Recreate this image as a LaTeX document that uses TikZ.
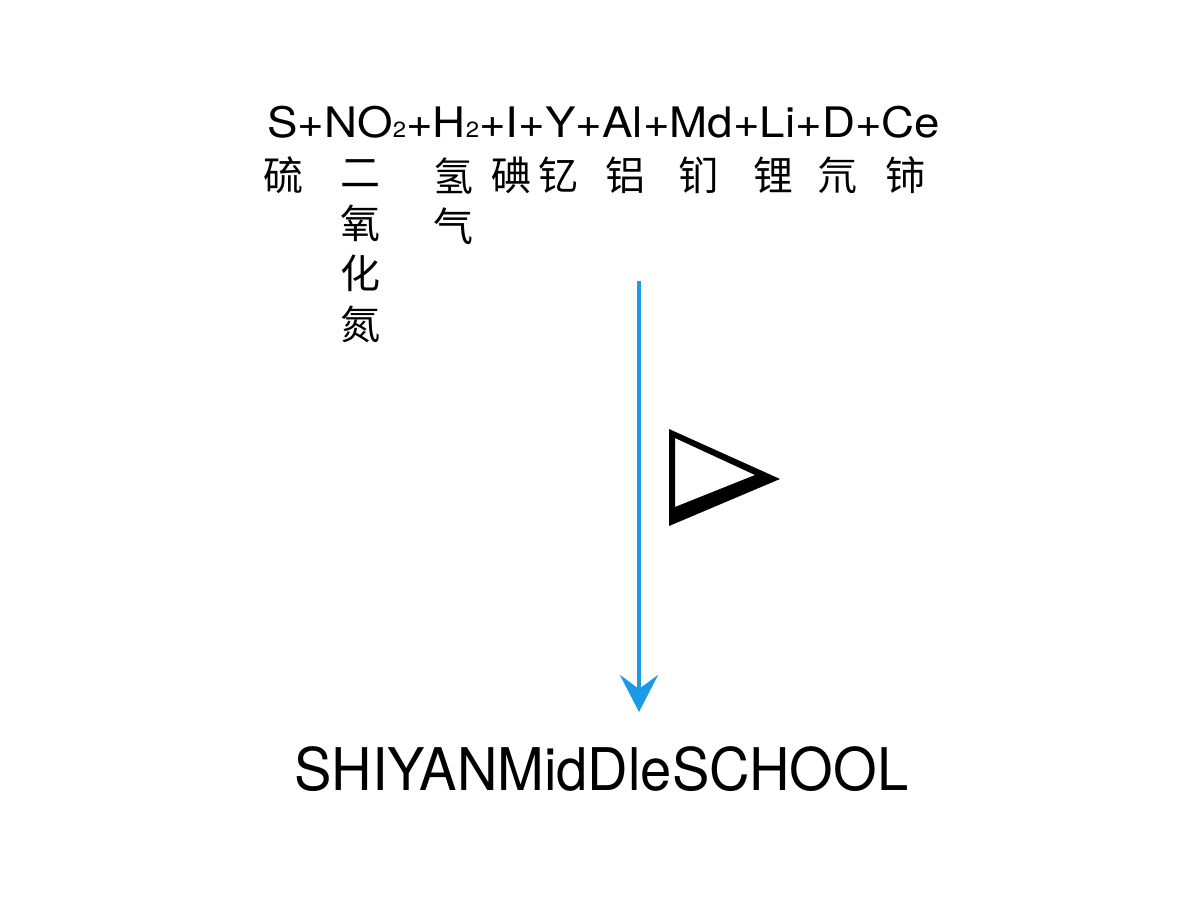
\documentclass[tikz,border=0pt]{standalone}
\usepackage{fontspec}
\usepackage{graphicx}
\setmainfont{TeX Gyre Heros}
\newfontfamily\cjk{Noto Sans CJK SC}
\usetikzlibrary{arrows.meta}
\definecolor{arrowblue}{RGB}{27,154,232}
\tikzset{
  formula/.style={inner sep=0pt, anchor=base west, font=\fontsize{42}{48}\selectfont},
  hanzi/.style={inner sep=0pt, align=center, font=\cjk\fontsize{40}{50.5}\selectfont},
  school/.style={inner sep=0pt, anchor=base west, font=\fontsize{58.8}{62}\selectfont},
  flow/.style={draw=arrowblue, line width=4.5pt, -{Stealth[length=37pt, width=38pt, inset=14pt]}},
}
\newcommand{\subtwo}{\raisebox{-0.5pt}{\fontsize{22}{22}\selectfont 2}}
\begin{document}
\begin{tikzpicture}[x=1pt, y=-1pt]
\useasboundingbox (0,0) rectangle (1200,900);
\fill[white] (0,0) rectangle (1200,900);
\node[formula] (eq) at (267,137) {\resizebox{673pt}{\height}{S+NO\subtwo+H\subtwo+I+Y+Al+Md+Li+D+Ce}};
\node[hanzi] (s)  at (283,175) {硫};
\node[hanzi] (no) at (360,251) {二\\氧\\化\\氮};
\node[hanzi] (h)  at (453,201) {氢\\气};
\node[hanzi] (i)  at (511,175) {碘};
\node[hanzi] (y)  at (558,175) {钇};
\node[hanzi] (al) at (625,175) {铝};
\node[hanzi] (md) at (698,175) {钔};
\node[hanzi] (li) at (773,175) {锂};
\node[hanzi] (d)  at (837,175) {氘};
\node[hanzi] (ce) at (905,175) {铈};
\coordinate (top) at (639,281);
\coordinate (bot) at (639,712);
\draw[flow] (top) -- (bot);
\fill[even odd rule] (669,429) -- (669,526) -- (780,479) -- cycle
                     (675,438) -- (675,507) -- (755,475) -- cycle;
\node[school] (name) at (294,790) {\resizebox{614pt}{\height}{SHIYANMidDleSCHOOL}};
\end{tikzpicture}
\end{document}
